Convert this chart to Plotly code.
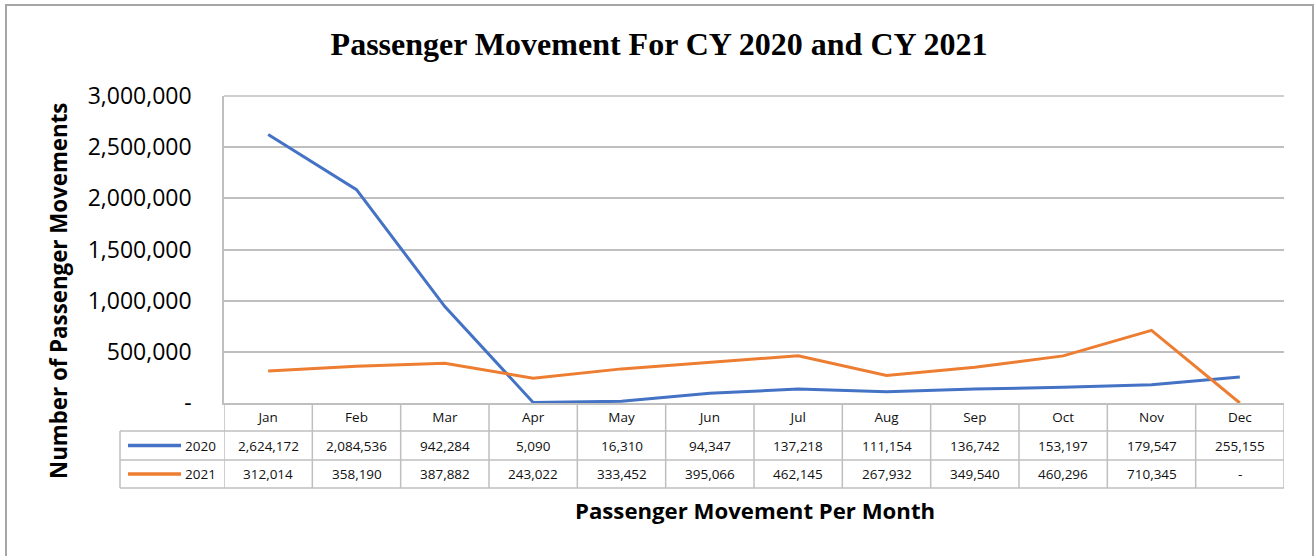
import plotly.graph_objects as go

months = ["Jan", "Feb", "Mar", "Apr", "May", "Jun", "Jul", "Aug", "Sep", "Oct", "Nov", "Dec"]
pax_2020 = [2624172, 2084536, 942284, 5090, 16310, 94347, 137218, 111154, 136742, 153197, 179547, 255155]
pax_2021 = [312014, 358190, 387882, 243022, 333452, 395066, 462145, 267932, 349540, 460296, 710345, 0]
series = [("2020", pax_2020, "#4472C4"), ("2021", pax_2021, "#ED7D31")]
y_ticks = [0, 500000, 1000000, 1500000, 2000000, 2500000, 3000000]

# plot area in pixels: left 224, right 1284, top 96, bottom 403
W, H = 1316, 556
L, R, T, B = 224, 1284, 96, 403


def px(x):
    return (x - L) / (R - L)


def py(y):
    return (B - y) / (B - T)


def fmt(v):
    return "-" if v == 0 else f"{v:,}"


grid = "#BFBFBF"
fig = go.Figure()
for name, vals, col in series:
    fig.add_trace(go.Scatter(x=months, y=vals, mode="lines", name=name,
                             line=dict(color=col, width=3)))

shapes = []
annotations = []
row_top = [B, 431, 460, 488]
tab_left = 120
# horizontal lines of the data table
for yy in row_top[1:]:
    shapes.append(dict(type="line", xref="paper", yref="paper", x0=px(tab_left), x1=1,
                       y0=py(yy), y1=py(yy), line=dict(color=grid, width=1.5)))
shapes.append(dict(type="line", xref="paper", yref="paper", x0=px(tab_left), x1=px(tab_left),
                   y0=py(row_top[1]), y1=py(row_top[3]), line=dict(color=grid, width=1.5)))
# vertical column separators, from the category axis
for i in range(len(months) + 1):
    shapes.append(dict(type="line", xref="x", yref="paper", x0=i - 0.5, x1=i - 0.5,
                       y0=0, y1=py(row_top[3]), line=dict(color=grid, width=1.5)))

for r, (name, vals, col) in enumerate(series):
    yc = py((row_top[r + 1] + row_top[r + 2]) / 2)
    shapes.append(dict(type="line", xref="paper", yref="paper", x0=px(128), x1=px(181),
                       y0=yc, y1=yc, line=dict(color=col, width=3.5)))
    annotations.append(dict(text=name, xref="paper", yref="paper", x=px(218), y=yc,
                            xanchor="right", yanchor="middle", showarrow=False,
                            font=dict(size=13.5, color="#111")))
    for m, v in zip(months, vals):
        annotations.append(dict(text=fmt(v), xref="x", yref="paper", x=m, y=yc,
                                xanchor="center", yanchor="middle", showarrow=False,
                                font=dict(size=13.5, color="#111")))

# outer chart border
shapes.append(dict(type="rect", xref="paper", yref="paper", x0=px(6), x1=px(1313),
                   y0=py(570), y1=py(5), line=dict(color="#A6A6A6", width=2)))

annotations.append(dict(text="<b>Number of Passenger Movements</b>", xref="paper", yref="paper",
                        x=px(58), y=py(291), textangle=-90, showarrow=False,
                        xanchor="center", yanchor="middle",
                        font=dict(size=22.3, color="#000", family="Open Sans")))
annotations.append(dict(text="<b>Passenger Movement Per Month</b>", xref="paper", yref="paper",
                        x=px(755), y=py(510), showarrow=False,
                        xanchor="center", yanchor="middle",
                        font=dict(size=22.2, color="#000", family="Open Sans")))

fig.update_layout(
    width=W, height=H,
    margin=dict(l=L, r=W - R, t=T, b=H - B),
    paper_bgcolor="white", plot_bgcolor="white",
    font=dict(family="Open Sans", color="#111"),
    title=dict(text="<b>Passenger Movement For CY 2020 and CY 2021</b>",
               x=659 / W, xanchor="center",
               y=1 - 44 / H, yanchor="middle",
               font=dict(family="Liberation Serif", size=32, color="#000")),
    showlegend=False,
    shapes=shapes,
    annotations=annotations,
    xaxis=dict(type="category", range=[-0.5, 11.5], showgrid=False,
               showline=True, linecolor=grid, linewidth=1.5, ticks="",
               tickfont=dict(size=13.5, color="#111"), ticklabelstandoff=1),
    yaxis=dict(range=[0, 3000000], tickvals=y_ticks,
               ticktext=[fmt(v) for v in y_ticks],
               showgrid=True, gridcolor=grid, gridwidth=1.5, showline=True,
               linecolor=grid, linewidth=1.5,
               zeroline=False, ticks="", ticklabelstandoff=26,
               tickfont=dict(size=23, color="#000")),
)
fig.add_shape(type="line", xref="paper", yref="paper", x0=0, x1=1, y0=1, y1=1,
              line=dict(color=grid, width=1.5))

fig.write_html("out.html", config={"displayModeBar": False},
               post_script="document.body.style.margin='0';")
